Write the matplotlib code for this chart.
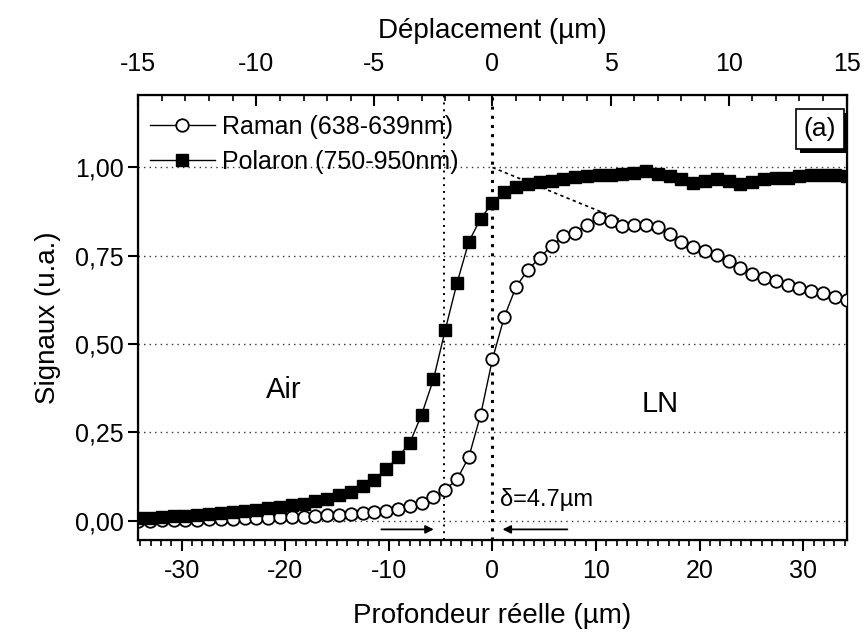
import numpy as np
import matplotlib
matplotlib.use('Agg')
import matplotlib.pyplot as plt
from matplotlib.ticker import MultipleLocator, FuncFormatter
import matplotlib.patheffects as pe

plt.rcParams['font.family'] = ['Liberation Sans', 'DejaVu Sans']
plt.rcParams['axes.unicode_minus'] = False

# displacement (um) -> real depth = displacement * ratio
ratio = 2.28
displacement = [-15, -14.5, -14, -13.5, -13, -12.5, -12, -11.5, -11, -10.5,
                -10, -9.5, -9, -8.5, -8, -7.5, -7, -6.5, -6, -5.5,
                -5, -4.5, -4, -3.5, -3, -2.5, -2, -1.5, -1, -0.5,
                0, 0.5, 1, 1.5, 2, 2.5, 3, 3.5, 4, 4.5,
                5, 5.5, 6, 6.5, 7, 7.5, 8, 8.5, 9, 9.5,
                10, 10.5, 11, 11.5, 12, 12.5, 13, 13.5, 14, 14.5, 15]

raman = [0.000, 0.000, 0.001, 0.001, 0.002, 0.002, 0.003, 0.004, 0.005, 0.006,
         0.007, 0.008, 0.009, 0.010, 0.011, 0.013, 0.015, 0.017, 0.019, 0.021,
         0.024, 0.028, 0.033, 0.041, 0.050, 0.066, 0.087, 0.117, 0.180, 0.300,
         0.457, 0.577, 0.662, 0.710, 0.744, 0.778, 0.805, 0.815, 0.838, 0.857,
         0.847, 0.835, 0.838, 0.837, 0.830, 0.812, 0.789, 0.776, 0.762, 0.752,
         0.734, 0.716, 0.698, 0.688, 0.677, 0.668, 0.659, 0.649, 0.644, 0.632, 0.625]

polaron = [0.006, 0.008, 0.010, 0.012, 0.014, 0.016, 0.019, 0.022, 0.025, 0.028,
           0.031, 0.035, 0.039, 0.043, 0.048, 0.054, 0.062, 0.071, 0.080, 0.097,
           0.116, 0.145, 0.180, 0.220, 0.300, 0.400, 0.540, 0.673, 0.790, 0.855,
           0.900, 0.930, 0.946, 0.953, 0.958, 0.963, 0.968, 0.972, 0.975, 0.978,
           0.979, 0.981, 0.984, 0.990, 0.982, 0.975, 0.968, 0.957, 0.963, 0.967,
           0.962, 0.952, 0.960, 0.966, 0.970, 0.971, 0.975, 0.978, 0.980, 0.979, 0.977]

yticks = [0.0, 0.25, 0.5, 0.75, 1.0]
delta = 4.7
# dashed guide: from (0, 1.0) down to (15, 0.82)
guide_x = [0, 15]
guide_y = [1.0, 0.82]

depth = np.array(displacement) * ratio

fig = plt.figure(figsize=(8.64, 6.32), dpi=100)
ax = fig.add_axes([0.160, 0.1456, 0.820, 0.704])

# grid lines
for y in yticks:
    ax.axhline(y, color='0.2', linewidth=1.0, linestyle=(0, (1, 3)), zorder=1)
ax.axvline(-delta, color='k', linewidth=1.4, linestyle=(0, (1, 2.5)), zorder=1)
ax.axvline(0, color='k', linewidth=2.2, linestyle=(0, (1, 2)), zorder=1)
ax.plot(guide_x, guide_y, color='k', linewidth=1.2, linestyle=(0, (2, 2)), zorder=1)

ax.plot(depth, raman, color='k', linewidth=1.0, marker='o', markersize=9,
        markerfacecolor='white', markeredgecolor='k', markeredgewidth=1.3,
        label='Raman (638-639nm)', zorder=3)
ax.plot(depth, polaron, color='k', linewidth=1.0, marker='s', markersize=8,
        markerfacecolor='k', markeredgecolor='k',
        label='Polaron (750-950nm)', zorder=4)

xmax = 15 * ratio
ax.set_xlim(-xmax, xmax)
ax.set_ylim(-0.055, 1.205)
ax.set_yticks(yticks)
ax.yaxis.set_major_formatter(FuncFormatter(lambda v, p: f'{v:.2f}'.replace('.', ',')))
ax.xaxis.set_major_locator(MultipleLocator(10))
ax.xaxis.set_minor_locator(MultipleLocator(1))
ax.tick_params(axis='x', which='major', direction='out', length=8, width=1.5, labelsize=18, pad=6)
ax.tick_params(axis='x', which='minor', direction='out', length=4, width=1.2)
ax.tick_params(axis='y', which='major', direction='out', length=7, width=1.5, labelsize=18, right=False)
for s in ax.spines.values():
    s.set_linewidth(1.6)

ax.set_xlabel('Profondeur réelle (µm)', fontsize=20, labelpad=14)
ax.set_ylabel('Signaux (u.a.)', fontsize=20, labelpad=10)

# top axis: displacement
top = ax.twiny()
top.set_xlim(-15, 15)
top.xaxis.set_major_locator(MultipleLocator(5))
top.xaxis.set_minor_locator(MultipleLocator(1))
top.tick_params(axis='x', which='major', direction='in', length=8, width=1.5, labelsize=18, pad=14)
top.tick_params(axis='x', which='minor', direction='in', length=4, width=1.2)
top.set_xlabel('Déplacement (µm)', fontsize=20, labelpad=10)

# annotations
ax.text(-20.2, 0.37, 'Air', fontsize=21, ha='center', va='center')
ax.text(16.2, 0.33, 'LN', fontsize=21, ha='center', va='center')
ax.text(0.7, 0.06, 'δ=4.7µm', fontsize=17, ha='left', va='center')
ax.annotate('', xy=(-5.4, -0.025), xytext=(-11.0, -0.025),
            arrowprops=dict(arrowstyle='-|>', color='k', lw=1.3, mutation_scale=12))
ax.annotate('', xy=(0.7, -0.025), xytext=(7.5, -0.025),
            arrowprops=dict(arrowstyle='-|>', color='k', lw=1.3, mutation_scale=12))

t = ax.text(31.6, 1.11, '(a)', fontsize=19, ha='center', va='center',
            bbox=dict(boxstyle='square,pad=0.3', facecolor='white', edgecolor='k', linewidth=1.2))
t.get_bbox_patch().set_path_effects([pe.withSimplePatchShadow(offset=(3, -3), shadow_rgbFace='k', alpha=1.0)])

ax.legend(loc='upper left', bbox_to_anchor=(-0.005, 0.99), frameon=False, fontsize=18,
          handlelength=2.6, handletextpad=0.3, labelspacing=0.45, borderaxespad=0.2)

fig.savefig('out.png', dpi=100)
